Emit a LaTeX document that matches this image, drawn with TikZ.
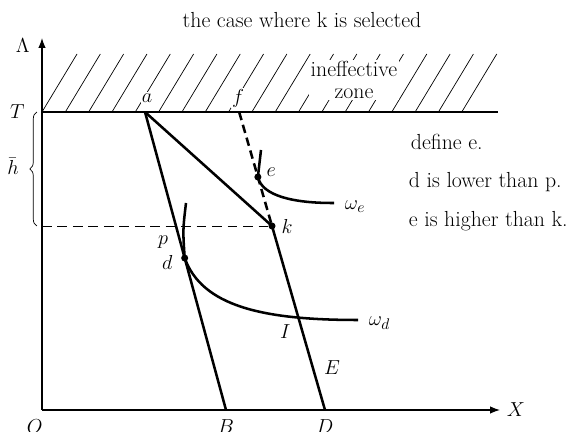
\documentclass[tikz,border=0pt]{standalone}
\usepackage{tikz}
\usetikzlibrary{calc,arrows.meta,decorations.pathreplacing}

\tikzset{
    curveline/.style={line width=1.8pt},
    axisline/.style={line width=0.9pt},
    hatchline/.style={line width=0.5pt},
    dot/.style={circle,fill,inner sep=0pt,minimum size=5pt},
}

\begin{document}
\begin{tikzpicture}[>=Latex,font=\fontsize{15.5}{18.5}\selectfont]
    \useasboundingbox (-1.05,-0.55) rectangle (13.35,10.25);
    \def\topy{7.45} % level T of the ineffective zone

    %======================================================
    % axes and hatched zone
    %======================================================
    \coordinate (O) at (0,0);
    \coordinate (Xend) at (11.45,0);
    \coordinate (Yend) at (0,9.3);
    \coordinate (T) at (0,\topy);
    \coordinate (Tend) at (11.4,\topy);

    % hatching above T
    \foreach \i in {0,...,18}{
        \draw[hatchline] ({\i*0.583},\topy) -- ++(0.875,1.45);
    }
    \draw[axisline] (T) -- (Tend);
    \node[fill=white,inner sep=1pt,align=center] (zone) at (7.8,8.25)
        {ineffective\\[-3pt]zone};

    \draw[axisline,->] (O) -- (Xend);
    \draw[axisline,->] (O) -- (Yend);
    \node (Xlab) at (11.85,0) {$X$};
    \node (Llab) at (-0.48,9.12) {$\Lambda$};
    \node (Olab) at (-0.18,-0.42) {$O$};
    \node (Tlab) at (-0.62,\topy) {$T$};

    % level h bar
    \coordinate (k0) at (0,4.6);
    \draw[line width=0.5pt,decorate,decoration={brace,amplitude=5pt}]
        (-0.13,4.6) -- (-0.13,\topy);
    \node (hlab) at (-0.72,6.1) {$\bar h$};

    %======================================================
    % lines aB and fD
    %======================================================
    \coordinate (a) at (2.575,\topy);
    \coordinate (B) at (4.6,0);
    \coordinate (D) at (7.075,0);
    \coordinate (k) at (5.75,4.6);
    \coordinate (f) at ($(D)!1.6196!(k)$);
    \coordinate (e) at ($(D)!0.7819!(f)$);
    \coordinate (d) at ($(a)!0.49!(B)$);

    \draw[line width=0.5pt,dash pattern=on 7pt off 4pt] (k0) -- (k);
    \draw[curveline] (a) -- (B);
    \draw[curveline] (a) -- (k);
    \draw[curveline] (k) -- (D);
    \draw[curveline,dash pattern=on 6pt off 3.5pt] (f) -- (k);

    % indifference curves
    \coordinate (we1) at (5.475,6.5);
    \coordinate (we2) at (7.3,5.175);
    \draw[curveline] (we1) .. controls (5.43,6.15) .. (e)
        .. controls (5.5,5.35) and (6.3,5.17) .. (we2);

    \coordinate (wd1) at (3.6,5.175);
    \coordinate (wd2) at (7.9,2.25);
    \draw[curveline] (wd1) .. controls (3.52,4.5) .. (d)
        .. controls (4.0,2.6) and (5.5,2.25) .. (wd2);

    % points
    \foreach \P in {d,e,k}{
        \node[dot] (\P dot) at (\P) {};
    }

    % labels
    \node[fill=white,inner sep=1pt] (alab) at (2.63,7.8) {$a$};
    \node[fill=white,inner sep=1pt] (flab) at (4.9,7.8) {$f$};
    \node (elab) at (5.73,5.95) {$e$};
    \node (klab) at (6.13,4.6) {$k$};
    \node (plab) at (3.03,4.2) {$p$};
    \node (dlab) at (3.13,3.68) {$d$};
    \node (Ilab) at (6.08,1.95) {$I$};
    \node (Elab) at (7.25,1.05) {$E$};
    \node (Blab) at (4.6,-0.42) {$B$};
    \node (Dlab) at (7.075,-0.42) {$D$};
    \node[anchor=west] (welab) at (7.45,5.08) {$\omega_e$};
    \node[anchor=west] (wdlab) at (8.05,2.18) {$\omega_d$};

    %======================================================
    % texts
    %======================================================
    \node (title) at (6.5,9.75) {the case where k is selected};
    \node[anchor=west] (t1) at (9.1,6.7) {define e.};
    \node[anchor=west] (t2) at (9.05,5.7) {d is lower than p.};
    \node[anchor=west] (t3) at (9.05,4.72) {e is higher than k.};
\end{tikzpicture}
\end{document}
